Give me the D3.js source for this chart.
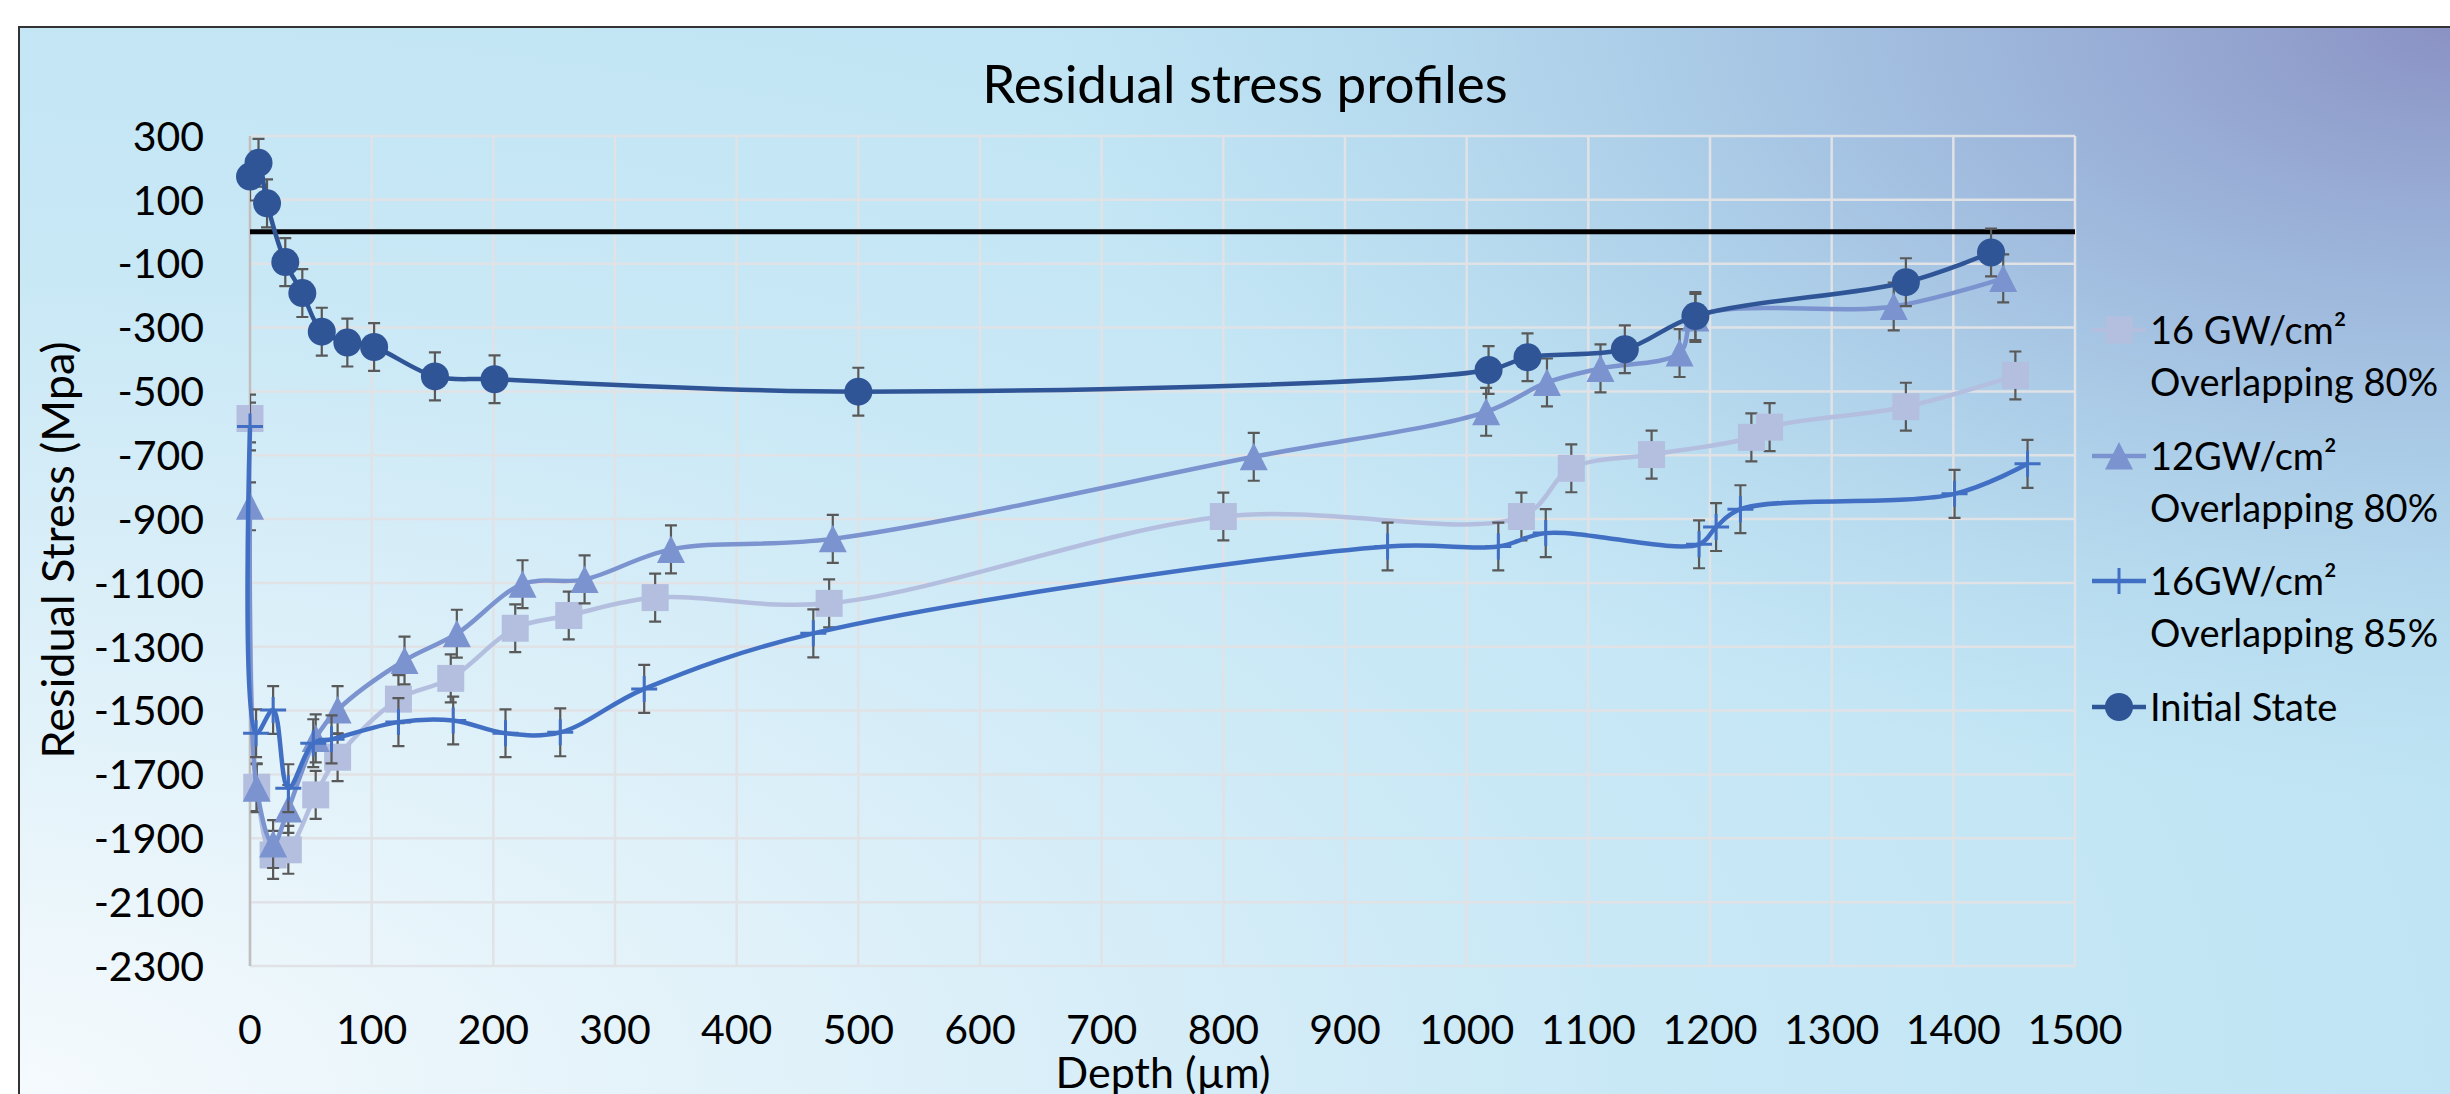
<!DOCTYPE html>
<html>
<head>
<meta charset="utf-8">
<script src="https://cdn.jsdelivr.net/npm/d3@7"></script>
<style>
  html, body { margin: 0; padding: 0; background: #fff; overflow: hidden; }
  svg { display: block; font-family: Lato, "Open Sans", sans-serif; }
</style>
</head>
<body>
<svg id="canvas" width="2450" height="1094"></svg>
<script>
// Depth (µm) and residual stress (MPa)
const depthSq = [0, 5.5, 19, 31.5, 54, 72, 122, 165, 218, 262, 333, 476, 800, 1045, 1086, 1152, 1234, 1249, 1361, 1451];
const stressSq = [-585, -1740, -1952, -1936, -1764, -1646, -1464, -1399, -1242, -1202, -1146, -1164, -892, -892, -741, -698, -644, -612, -548, -450];

const depthTri = [0, 5.5, 19, 31.5, 54, 72, 127, 170, 224, 275, 346, 479, 825, 1016, 1066, 1110, 1175, 1188, 1351, 1441];
const stressTri = [-860, -1743, -1918, -1808, -1587, -1498, -1343, -1259, -1104, -1089, -995, -962, -705, -564, -472, -428, -380, -270, -234, -146];

const depthCross = [0, 5, 19, 31.5, 52, 67, 122, 167, 210, 255, 324, 463, 935, 1026, 1065, 1191, 1205, 1225, 1401, 1461];
const stressCross = [-610, -1571, -1498, -1743, -1602, -1590, -1536, -1531, -1571, -1568, -1432, -1258, -986, -986, -944, -979, -925, -869, -821, -727];

const depthInit = [0, 7, 14, 29, 43, 59, 80, 102, 152, 201, 500, 1018, 1050, 1130, 1188, 1361, 1431];
const stressInit = [173, 216, 89, -95, -192, -313, -347, -361, -453, -462, -501, -433, -393, -368, -264, -158, -65];

const errorValue = 75;

const seriesNames = [["16 GW/cm²", "Overlapping 80%"], ["12GW/cm²", "Overlapping 80%"], ["16GW/cm²", "Overlapping 85%"], ["Initial State"]];
const seriesColors = ["#b4bfe0", "#7b93cf", "#416fc3", "#2f5597"];
const seriesMarkers = ["square", "triangle", "cross", "circle"];

const xTicks = d3.range(0, 1501, 100);
const yTicks = d3.range(-2300, 301, 200);

const svg = d3.select("#canvas");
const [mt, mr, mb, ml] = [136, 375, 128, 250];
const W = 2450, H = 1094;

const x = d3.scaleLinear().domain([0, 1500]).range([ml, W - mr]);
const y = d3.scaleLinear().domain([-2300, 300]).range([H - mb, mt]);

// Background gradients
const defs = svg.append("defs");
const base = defs.append("radialGradient")
  .attr("id", "bgBase").attr("gradientUnits", "userSpaceOnUse")
  .attr("cx", 0).attr("cy", 1094).attr("r", 2700)
  .attr("gradientTransform", "translate(0,1094) scale(1,0.5) translate(0,-1094)");
[[0, "#f5fafd"], [0.3, "#e0f1f9"], [0.6, "#c9e8f6"], [1, "#bde3f3"]].forEach(([o, c]) =>
  base.append("stop").attr("offset", o).attr("stop-color", c));

const corner = defs.append("radialGradient")
  .attr("id", "bgCorner").attr("gradientUnits", "userSpaceOnUse")
  .attr("cx", 2450).attr("cy", 27).attr("r", 1400)
  .attr("gradientTransform", "translate(2450,27) scale(1,0.55) translate(-2450,-27)");
[[0, "#8a92c4", 1], [0.4, "#9ab3da", 0.8], [1, "#a8d2ea", 0]].forEach(([o, c, a]) =>
  corner.append("stop").attr("offset", o).attr("stop-color", c).attr("stop-opacity", a));

defs.append("clipPath").attr("id", "plotClip")
  .append("rect")
  .attr("x", ml).attr("y", mt - 40)
  .attr("width", W - mr - ml).attr("height", H - mb - mt + 80);

svg.append("rect").attr("x", 19).attr("y", 27).attr("width", W).attr("height", H).attr("fill", "url(#bgBase)");
svg.append("rect").attr("x", 19).attr("y", 27).attr("width", W).attr("height", H).attr("fill", "url(#bgCorner)");
svg.append("path").attr("d", `M19,${H} V27 H${W}`).attr("fill", "none").attr("stroke", "#333").attr("stroke-width", 2);

// Title
svg.append("text")
  .attr("x", 1245).attr("y", 103)
  .attr("text-anchor", "middle")
  .attr("font-size", 53)
  .text("Residual stress profiles");

// Grid
svg.append("g").selectAll("line").data(xTicks).enter().append("line")
  .attr("x1", (d) => x(d)).attr("x2", (d) => x(d))
  .attr("y1", mt).attr("y2", H - mb)
  .attr("stroke", "#e0e2e5").attr("stroke-width", 2.5);
svg.append("g").selectAll("line").data(yTicks).enter().append("line")
  .attr("x1", ml).attr("x2", W - mr)
  .attr("y1", (d) => y(d)).attr("y2", (d) => y(d))
  .attr("stroke", "#e0e2e5").attr("stroke-width", 2.5);
svg.append("line")
  .attr("x1", ml).attr("x2", ml).attr("y1", mt).attr("y2", H - mb)
  .attr("stroke", "#bfbfbf").attr("stroke-width", 2.5);

// Axes labels
svg.append("g").selectAll("text").data(yTicks).enter().append("text")
  .attr("x", 204).attr("y", (d) => y(d))
  .attr("dy", "0.36em")
  .attr("text-anchor", "end")
  .attr("font-size", 41)
  .text((d) => d);
svg.append("g").selectAll("text").data(xTicks).enter().append("text")
  .attr("x", (d) => x(d)).attr("y", 1044)
  .attr("text-anchor", "middle")
  .attr("font-size", 41)
  .text((d) => d);

svg.append("text")
  .attr("transform", "translate(74,550) rotate(-90)")
  .attr("text-anchor", "middle")
  .attr("font-size", 45)
  .text("Residual Stress (Mpa)");
svg.append("text")
  .attr("x", 1163).attr("y", 1088)
  .attr("text-anchor", "middle")
  .attr("font-size", 43)
  .text("Depth (µm)");

// Zero line
svg.append("line")
  .attr("x1", ml).attr("x2", W - mr)
  .attr("y1", y(0)).attr("y2", y(0))
  .attr("stroke", "#000").attr("stroke-width", 5);

// Marker drawing
const drawMarker = (g, type, color) => {
  if (type === "square") {
    g.append("rect").attr("x", -13.5).attr("y", -13.5).attr("width", 27).attr("height", 27).attr("fill", color);
  } else if (type === "triangle") {
    g.append("path").attr("d", "M0,-14 L14,13.5 L-14,13.5 Z").attr("fill", color);
  } else if (type === "circle") {
    g.append("circle").attr("r", 14).attr("fill", color);
  } else {
    g.append("path").attr("d", "M-13,0 H13 M0,-13 V13").attr("stroke", color).attr("stroke-width", 3);
  }
};

const series = [
  [depthSq, stressSq],
  [depthTri, stressTri],
  [depthCross, stressCross],
  [depthInit, stressInit],
];

const line = d3.line()
  .x((d) => x(d[0]))
  .y((d) => y(d[1]))
  .curve(d3.curveCatmullRom.alpha(0.5));

series.forEach(([xs, ys], i) => {
  const pts = xs.map((d, j) => [d, ys[j]]);
  const color = seriesColors[i];
  const g = svg.append("g").attr("class", "series");

  // Error bars
  g.append("g").attr("clip-path", "url(#plotClip)")
    .selectAll("path").data(pts).enter().append("path")
    .attr("d", (d) => {
      const cx = x(d[0]), y1 = y(d[1] + errorValue), y2 = y(d[1] - errorValue);
      return `M${cx},${y1} V${y2} M${cx - 6},${y1} H${cx + 6} M${cx - 6},${y2} H${cx + 6}`;
    })
    .attr("fill", "none").attr("stroke", "#595959").attr("stroke-width", 2.2);

  g.append("path").datum(pts)
    .attr("d", line)
    .attr("fill", "none")
    .attr("stroke", color)
    .attr("stroke-width", 4.5);

  g.selectAll("g.mk").data(pts).enter().append("g")
    .attr("class", "mk")
    .attr("transform", (d) => `translate(${x(d[0])},${y(d[1])})`)
    .each(function () { drawMarker(d3.select(this), seriesMarkers[i], color); });
});

// Legend
const legendY = [330, 456, 581, 707];
seriesNames.forEach((lines, i) => {
  const g = svg.append("g").attr("transform", `translate(2119,${legendY[i]})`);
  g.append("line").attr("x1", -27).attr("x2", 27).attr("stroke", seriesColors[i]).attr("stroke-width", 4.5);
  drawMarker(g, seriesMarkers[i], seriesColors[i]);
  lines.forEach((t, k) => {
    g.append("text")
      .attr("x", 31).attr("y", k * 52)
      .attr("dy", "0.36em")
      .attr("font-size", 38)
      .text(t);
  });
});
</script>
</body>
</html>
